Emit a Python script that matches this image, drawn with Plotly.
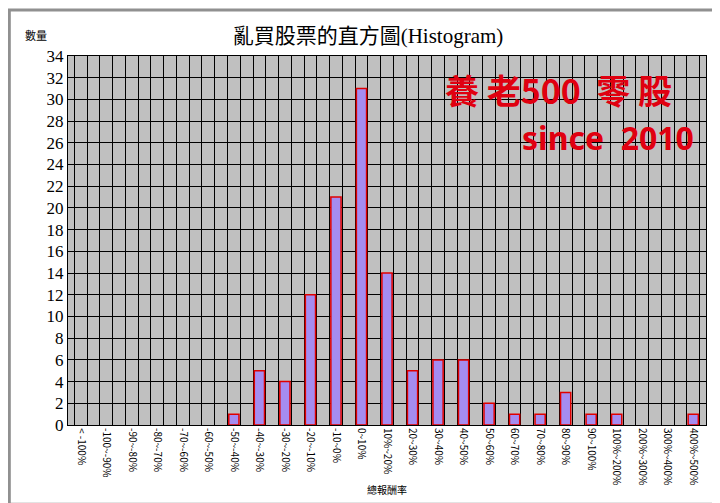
import plotly.graph_objects as go

categories = ["< -100%", "-100~-90%", "-90~-80%", "-80~-70%", "-70~-60%", "-60~-50%",
              "-50~-40%", "-40~-30%", "-30~-20%", "-20~-10%", "-10~0%", "0~10%",
              "10%~20%", "20~30%", "30~40%", "40~50%", "50~60%", "60~70%", "70~80%",
              "80~90%", "90~100%", "100%~200%", "200%~300%", "300%~400%", "400%~500%"]
counts = [0, 0, 0, 0, 0, 0, 1, 5, 4, 12, 21, 31, 14, 5, 6, 6, 2, 1, 1, 3, 1, 1, 0, 0, 1]
yticks = list(range(0, 35, 2))
xpos = list(range(len(categories)))
plot_counts = [c if c > 0 else None for c in counts]

fig = go.Figure(go.Bar(
    x=xpos, y=plot_counts, width=0.4,
    marker=dict(color="#a58cf0", line=dict(color="#e00000", width=1.5)),
))
fig.update_layout(
    width=720, height=503, paper_bgcolor="white", plot_bgcolor="#c0c0c0",
    margin=dict(l=60, r=22, t=48, b=86), showlegend=False,
    title=dict(text="亂買股票的直方圖(Histogram)", x=0.5, y=0.96, xanchor="center",
               font=dict(family="Liberation Serif, Noto Sans CJK TC", size=21, color="black")),
    font=dict(family="Liberation Serif", color="black"),
)
fig.update_xaxes(range=[-0.5, len(categories) - 0.5], tickvals=xpos, ticktext=categories,
                 tickangle=90, tickfont=dict(size=10, family="Noto Sans CJK TC"),
                 showgrid=False, zeroline=False, ticks="",
                 minor=dict(dtick=0.5, tick0=0.25, showgrid=True, gridcolor="black", gridwidth=1),
                 showline=True, linecolor="black", mirror=True,
                 title=dict(text="總報酬率", font=dict(size=10, family="Noto Sans CJK TC"), standoff=2))
fig.update_yaxes(range=[0, 34], tickvals=yticks, gridcolor="black", gridwidth=1,
                 tickfont=dict(size=17, family="Liberation Serif"), zeroline=False,
                 showline=True, linecolor="black", mirror=True)
fig.add_annotation(text="數量", xref="paper", yref="paper", x=-0.07, y=1.085, showarrow=False,
                   font=dict(size=11, family="Noto Sans CJK TC"))
fig.add_annotation(text="<b>養 老500  零 股</b>", xref="paper", yref="paper", x=0.95, y=0.91,
                   xanchor="right", yanchor="middle", showarrow=False,
                   font=dict(size=34, color="#e00010", family="Noto Sans CJK TC"))
fig.add_annotation(text="<b>since  2010</b>", xref="paper", yref="paper", x=0.985, y=0.78,
                   xanchor="right", yanchor="middle", showarrow=False,
                   font=dict(size=32, color="#e00010", family="Noto Sans"))
fig.add_shape(type="rect", xref="paper", yref="paper", x0=-0.092, x1=1.03, y0=-0.215, y1=1.125,
              line=dict(color="#909090", width=3))
fig.write_html("out.html")
